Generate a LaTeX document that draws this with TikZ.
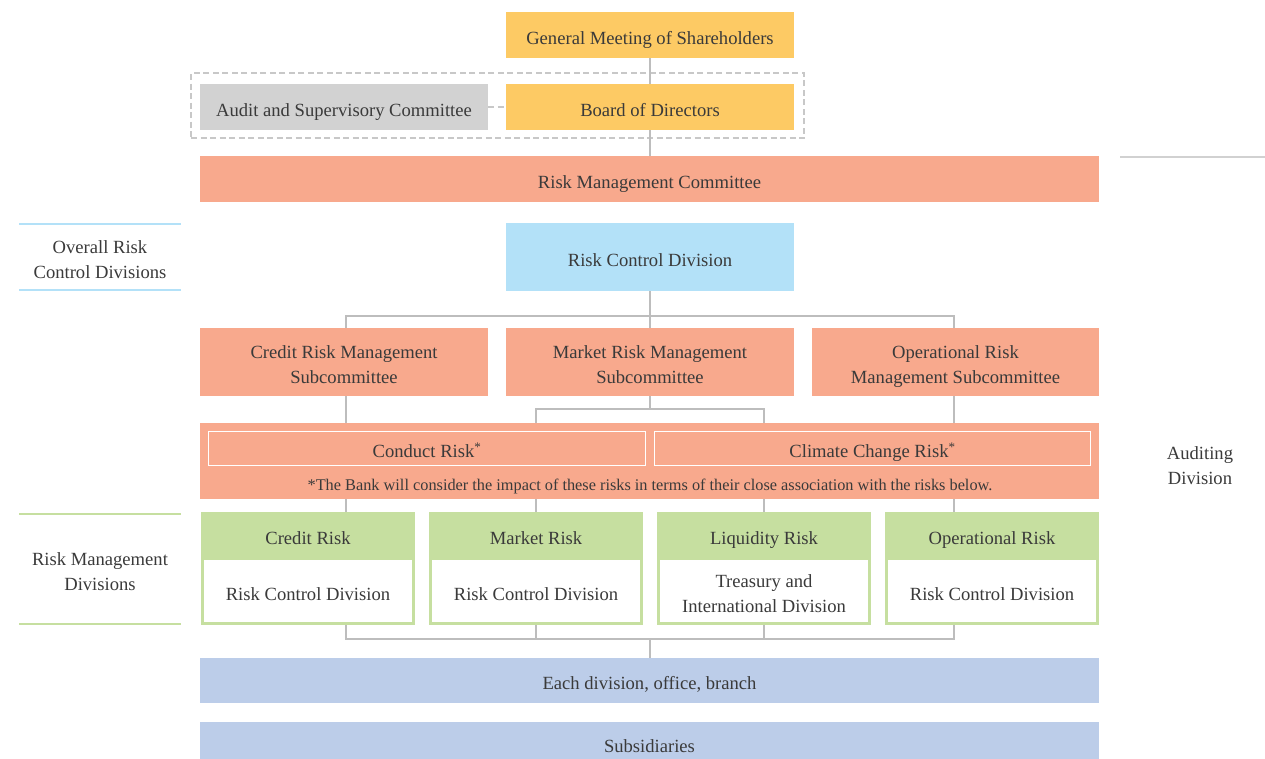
\documentclass[tikz,border=0pt]{standalone}
\usepackage{fontspec}
\setmainfont{Liberation Serif}
\definecolor{txt}{HTML}{3A3A3A}
\definecolor{gold}{HTML}{FDCA64}
\definecolor{greybox}{HTML}{D2D2D2}
\definecolor{salmon}{HTML}{F8A98D}
\definecolor{sky}{HTML}{B3E1F8}
\definecolor{leaf}{HTML}{C6DFA0}
\definecolor{steel}{HTML}{BCCDE9}
\definecolor{lnk}{HTML}{BDBDBD}
\definecolor{dash}{HTML}{C8C8C8}
\begin{document}
\begin{tikzpicture}[x=1pt,y=-1pt,
  box/.style={inner sep=0pt, align=center, text=txt, text height=18.5pt, text depth=0pt, font=\fontsize{18.6}{25}\selectfont},
  twoline/.style={box, text height=43.5pt},
  note/.style={inner sep=0pt, align=center, text=txt, font=\fontsize{16.3}{20}\selectfont},
  link/.style={draw=lnk, line width=2pt},
  dashlink/.style={draw=dash, line width=1.5pt, dash pattern=on 6pt off 3.5pt},
  riskhead/.style={box, fill=leaf, minimum width=214, minimum height=113},
  riskbody/.style={box, fill=white, minimum width=208, minimum height=62},
]
\clip (0,0) rectangle (1265,758);
\useasboundingbox (0,0) rectangle (1265,758);

% governance
\node[box, fill=gold, minimum width=288, minimum height=46] (gms) at (650,35) {General Meeting of Shareholders};
\node[dashlink, draw, minimum width=613, minimum height=65, inner sep=0pt] (grp) at (497.5,105.5) {};
\node[box, fill=gold, minimum width=288, minimum height=46] (bod) at (650,107) {Board of Directors};
\node[box, fill=greybox, minimum width=288, minimum height=46] (asc) at (344,107) {Audit and Supervisory Committee};
\node[box, fill=salmon, minimum width=899, minimum height=46] (rmc) at (649.5,179) {Risk Management Committee};
\draw[link] (gms.south) -- (bod.north);
\draw[link] (bod.south) -- (bod.south |- rmc.north);
\draw[dashlink] (asc.east) -- (bod.west);

% overall risk control
\node[box, fill=sky, minimum width=288, minimum height=68] (rcd) at (650,257) {Risk Control Division};
\node[twoline, fill=salmon, minimum width=288, minimum height=68] (crsc) at (344,362) {Credit Risk Management\\Subcommittee};
\node[twoline, fill=salmon, minimum width=288, minimum height=68] (mrsc) at (650,362) {Market Risk Management\\Subcommittee};
\node[twoline, fill=salmon, minimum width=287, minimum height=68] (orsc) at (955.5,362) {Operational Risk\\Management Subcommittee};
\coordinate (busA) at (650,316);
\draw[link] (rcd.south) -- (busA);
\draw[link] (crsc.north -| 346,0) |- (busA) -| (orsc.north -| 954,0);
\draw[link] (busA) -- (mrsc.north);

% cross-cutting risks
\node[box, fill=salmon, minimum width=899, minimum height=76] (band) at (649.5,461) {};
\node[box, draw=white, line width=1.8pt, minimum width=437, minimum height=34] (cond) at (427,448.5) {Conduct Risk\textsuperscript{*}};
\node[box, draw=white, line width=1.8pt, minimum width=436, minimum height=34] (clim) at (872.5,448.5) {Climate Change Risk\textsuperscript{*}};
\node[note] (fn) at (650,486) {*The Bank will consider the impact of these risks in terms of their close association with the risks below.};
\coordinate (busB) at (650,409);
\draw[link] (crsc.south -| 346,0) -- (band.north -| 346,0);
\draw[link] (orsc.south -| 954,0) -- (band.north -| 954,0);
\draw[link] (mrsc.south) -- (busB);
\draw[link] (band.north -| 536,0) |- (busB) -| (band.north -| 764,0);

% risk management divisions
\foreach \nm/\cx/\head in {cr/308/Credit Risk, mr/536/Market Risk, lr/764/Liquidity Risk, or/992/Operational Risk}{
  \node[riskhead] (\nm) at (\cx,568.5) {};
  \node[box] (\nm h) at (\cx,535.5) {\head};
}
\node[riskbody] (crb) at (308,591) {Risk Control Division};
\node[riskbody] (mrb) at (536,591) {Risk Control Division};
\node[riskbody, twoline] (lrb) at (764,591) {Treasury and\\International Division};
\node[riskbody] (orb) at (992,591) {Risk Control Division};

\draw[link] (band.south -| 346,0) -- (cr.north -| 346,0);
\draw[link] (band.south -| 536,0) -- (mr.north);
\draw[link] (band.south -| 764,0) -- (lr.north);
\draw[link] (band.south -| 954,0) -- (or.north -| 954,0);

% bottom tier
\node[box, fill=steel, minimum width=899, minimum height=45] (edb) at (649.5,680.5) {Each division, office, branch};
\node[box, fill=steel, minimum width=899, minimum height=42] (subs) at (649.5,743) {Subsidiaries};
\coordinate (busC) at (650,639);
\draw[link] (cr.south -| 346,0) |- (busC);
\draw[link] (mr.south) -- (mr.south |- busC);
\draw[link] (lr.south) -- (lr.south |- busC);
\draw[link] (or.south -| 954,0) |- (busC);
\draw[link] (busC) -- (busC |- edb.north);

% side labels
\draw[draw=sky, line width=2.5pt] (19,224) -- (181,224) (19,290) -- (181,290);
\node[twoline] (ovl) at (100,256.5) {Overall Risk\\Control Divisions};
\draw[draw=leaf, line width=2.5pt] (19,514) -- (181,514) (19,624) -- (181,624);
\node[twoline] (rmd) at (100,568.5) {Risk Management\\Divisions};
\draw[draw=lnk!70, line width=2.5pt] (1120,157) -- (1265,157);
\node[twoline] (aud) at (1200,462.5) {Auditing\\Division};
\end{tikzpicture}
\end{document}
